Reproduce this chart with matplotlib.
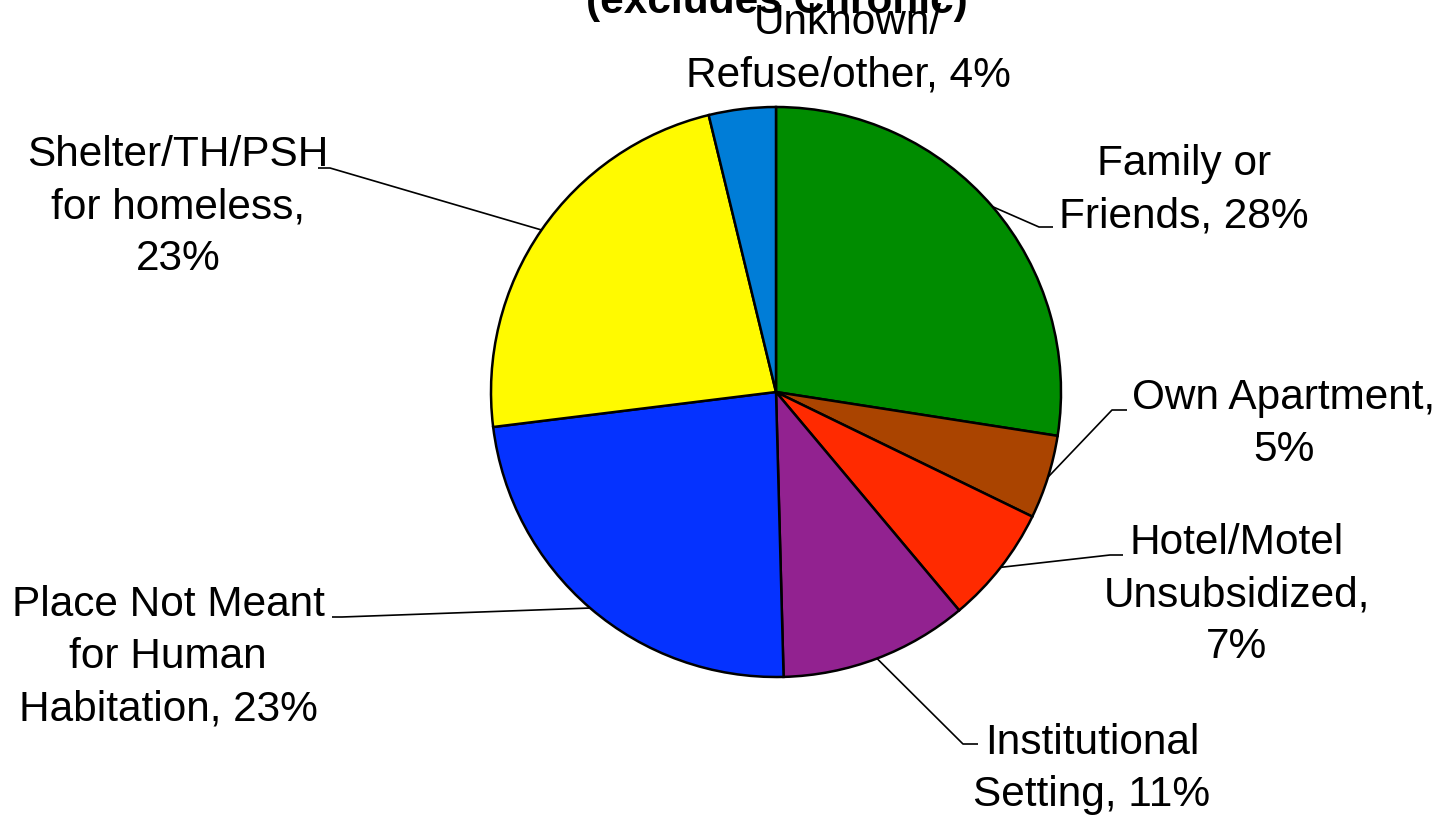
import matplotlib
matplotlib.use('Agg')
import matplotlib.pyplot as plt
import numpy as np

plt.rcParams['font.family'] = ['Liberation Sans', 'DejaVu Sans']

# Prior living situation shares (%), clockwise from 12 o'clock
categories = ['Family or\nFriends', 'Own Apartment', 'Hotel/Motel\nUnsubsidized',
              'Institutional\nSetting', 'Place Not Meant\nfor Human\nHabitation',
              'Shelter/TH/PSH\nfor homeless', 'Unknown/\nRefuse/other']
values = [27.5, 4.75, 6.7, 10.7, 23.5, 23.2, 3.8]
pct_labels = ['28%', '5%', '7%', '11%', '23%', '23%', '4%']
# how the label text breaks before the percentage
label_text = ['Family or\nFriends, 28%', 'Own Apartment,\n5%', 'Hotel/Motel\nUnsubsidized,\n7%',
              'Institutional\nSetting, 11%', 'Place Not Meant\nfor Human\nHabitation, 23%',
              'Shelter/TH/PSH\nfor homeless,\n23%', 'Unknown/\nRefuse/other, 4%']
colors = ['#008C00', '#AA4400', '#FF2A00', '#922290', '#0532FF', '#FFFA00', '#007DD7']

W, H = 1442, 815
cx, cy, R = 776, 392, 285  # pie centre and radius in pixels


def px(x, y):
    return (x - cx) / R, (cy - y) / R


# label centre, leader elbow and leader end, in pixels (None = no leader)
label_pos = [(1184, 190), (1284, 424), (1237, 595), (1092, 769), (168, 657), (178, 207), (848, 49)]
elbows = [((1039, 227), (1053, 227)), ((1112, 410), (1127, 410)), ((1110, 555), (1123, 555)),
          ((963, 744), (978, 744)), ((342, 617), (332, 617)), ((330, 168), (318, 168)), None]

fig = plt.figure(figsize=(W / 100, H / 100), dpi=100)
ax = fig.add_axes([0, 0, 1, 1])

wedges, _ = ax.pie(values, colors=colors, startangle=90, counterclock=False, radius=1,
                   wedgeprops=dict(edgecolor='black', linewidth=1.8))
ax.set_xlim(-cx / R, (W - cx) / R)
ax.set_ylim(-(H - cy) / R, cy / R)
ax.set_aspect('equal')
ax.axis('off')

for w, txt, pos, el in zip(wedges, label_text, label_pos, elbows):
    mid = np.radians((w.theta1 + w.theta2) / 2)
    if el is not None:
        ex, ey = np.cos(mid), np.sin(mid)
        bx, by = px(*el[0])
        fx, fy = px(*el[1])
        ax.plot([ex, bx, fx], [ey, by, fy], color='black', lw=1.2, solid_capstyle='butt')
    tx, ty = px(*pos)
    ax.text(tx, ty, txt, ha='center', va='center', multialignment='center',
            fontsize=30.5, linespacing=1.39)

fig.text(777 / W, 1 - 13 / H, '(excludes Chronic)', ha='center', va='baseline',
         fontsize=30.5, fontweight='bold')

fig.savefig('out.png', dpi=100)
